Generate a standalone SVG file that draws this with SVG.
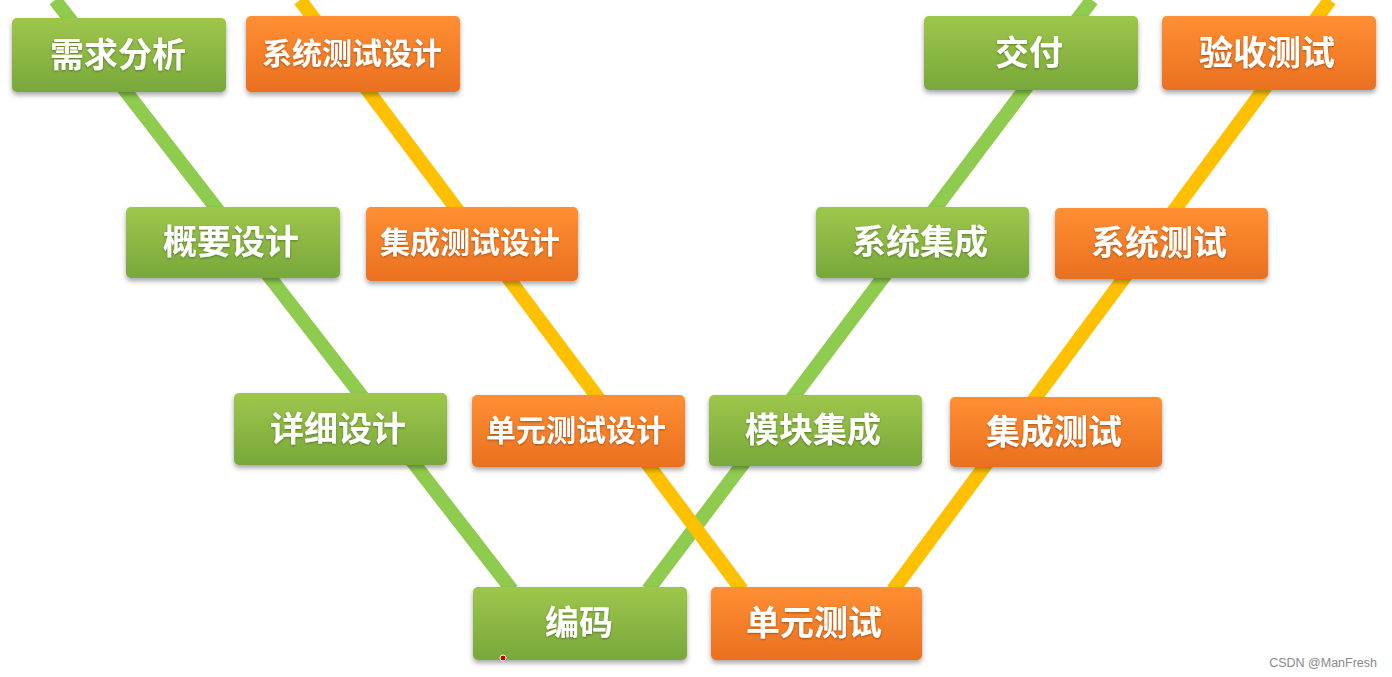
<svg xmlns="http://www.w3.org/2000/svg" width="1392" height="677" viewBox="0 0 1392 677">
<defs>
<linearGradient id="gG" x1="0" y1="0" x2="0" y2="1">
<stop offset="0" stop-color="#9EC64C"/>
<stop offset="1" stop-color="#78A83A"/>
</linearGradient>
<linearGradient id="gO" x1="0" y1="0" x2="0" y2="1">
<stop offset="0" stop-color="#FF8F33"/>
<stop offset="1" stop-color="#EA7020"/>
</linearGradient>
<filter id="sh" x="-10%" y="-20%" width="120%" height="150%">
<feDropShadow dx="0" dy="3" stdDeviation="2.5" flood-color="#000" flood-opacity="0.35"/>
</filter>
<filter id="ts" x="-10%" y="-20%" width="120%" height="150%">
<feDropShadow dx="0" dy="1" stdDeviation="1" flood-color="#000" flood-opacity="0.35"/>
</filter>
</defs>
<style>
.g{fill:url(#gG);filter:url(#sh)}
.o{fill:url(#gO);filter:url(#sh)}
.t{fill:#fff;font-family:"Noto Sans CJK SC","Noto Sans",sans-serif;font-weight:bold;font-size:34px;text-anchor:middle;dominant-baseline:central;filter:url(#ts)}
.t6{font-size:30px}
.lg{stroke:#8FCB4E;stroke-width:14;fill:none}
.ly{stroke:#FFC000;stroke-width:14;fill:none}
</style>
<rect width="1392" height="677" fill="#fff"/>
<g id="connectors">
<line class="lg" x1="55" y1="0" x2="512" y2="590"/>
<line class="lg" x1="648" y1="590" x2="1092" y2="0"/>
<line class="ly" x1="300" y1="0" x2="742" y2="590"/>
<line class="ly" x1="893" y1="590" x2="1330" y2="0"/>
</g>
<g id="n1"><rect class="g" x="12" y="18" width="214" height="74" rx="5"/><text class="t" x="118" y="52">需求分析</text></g>
<g id="n2"><rect class="o" x="246" y="16" width="214" height="76" rx="5"/><text class="t t6" x="352" y="51">系统测试设计</text></g>
<g id="n3"><rect class="g" x="126" y="207" width="214" height="71" rx="5"/><text class="t" x="231" y="239">概要设计</text></g>
<g id="n4"><rect class="o" x="366" y="207" width="212" height="74" rx="5"/><text class="t t6" x="470" y="240">集成测试设计</text></g>
<g id="n5"><rect class="g" x="234" y="393" width="213" height="72" rx="5"/><text class="t" x="338" y="426">详细设计</text></g>
<g id="n6"><rect class="o" x="472" y="395" width="213" height="72" rx="5"/><text class="t t6" x="576" y="428">单元测试设计</text></g>
<g id="n7"><rect class="g" x="473" y="587" width="214" height="73" rx="5"/><text class="t" x="579" y="620">编码</text></g>
<g id="n8"><rect class="o" x="711" y="587" width="211" height="73" rx="5"/><text class="t" x="814" y="620">单元测试</text></g>
<g id="n9"><rect class="g" x="709" y="395" width="213" height="71" rx="5"/><text class="t" x="813" y="427">模块集成</text></g>
<g id="n10"><rect class="o" x="950" y="397" width="212" height="70" rx="5"/><text class="t" x="1054" y="429">集成测试</text></g>
<g id="n11"><rect class="g" x="816" y="207" width="213" height="71" rx="5"/><text class="t" x="920" y="239">系统集成</text></g>
<g id="n12"><rect class="o" x="1055" y="208" width="213" height="71" rx="5"/><text class="t" x="1159" y="240">系统测试</text></g>
<g id="n13"><rect class="g" x="924" y="16" width="214" height="74" rx="5"/><text class="t" x="1029" y="50">交付</text></g>
<g id="n14"><rect class="o" x="1162" y="16" width="214" height="74" rx="5"/><text class="t" x="1267" y="50">验收测试</text></g>
<circle cx="503" cy="658" r="3" fill="#D00000" stroke="#fff" stroke-width="1"/>
<text x="1377" y="667" font-family="Liberation Sans, Arial, sans-serif" font-size="12.5" fill="#8a8a8a" text-anchor="end">CSDN @ManFresh</text>
</svg>
